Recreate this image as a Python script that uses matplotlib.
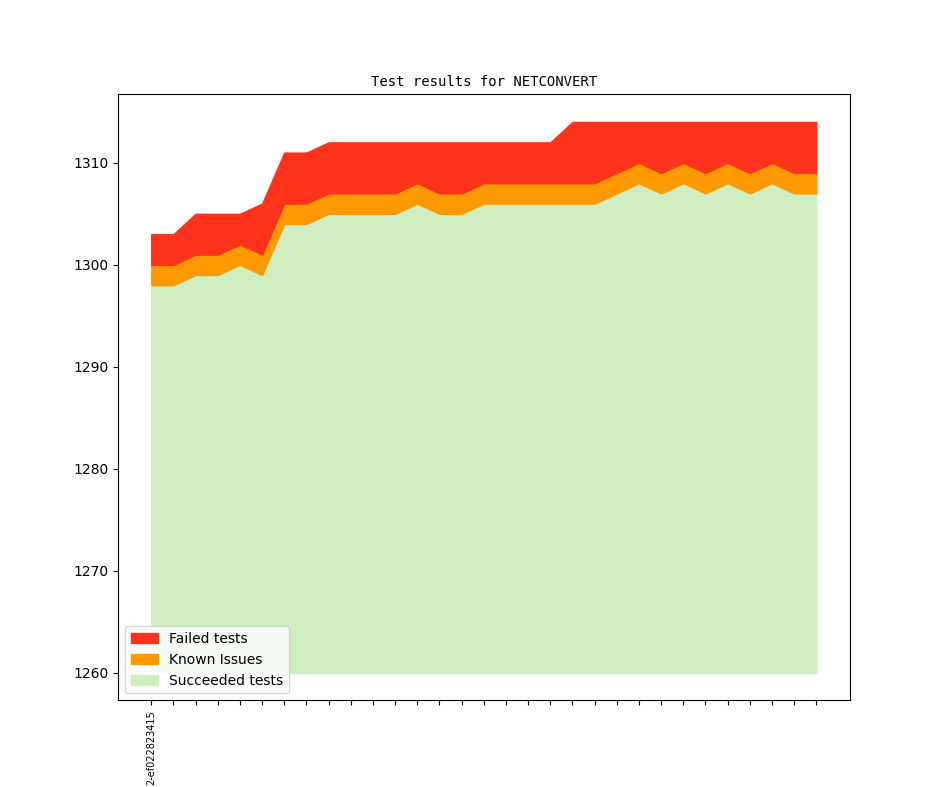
import matplotlib
matplotlib.use("Agg")
import matplotlib.pyplot as plt
import numpy as np

# one entry per revision, oldest first
revisions = ["2-ef022823415"] + [""] * 30
succeeded = [1298, 1298, 1299, 1299, 1300, 1299, 1304, 1304, 1305, 1305,
             1305, 1305, 1306, 1305, 1305, 1306, 1306, 1306, 1306, 1306,
             1306, 1307, 1308, 1307, 1308, 1307, 1308, 1307, 1308, 1307, 1307]
known = [2] * 31
failed = [3, 3, 4, 4, 3, 5, 5, 5, 5, 5,
          5, 5, 4, 5, 5, 4, 4, 4, 4, 6,
          6, 5, 4, 5, 4, 5, 4, 5, 4, 5, 5]
base = 1260

x = np.arange(len(revisions))
succ = np.array(succeeded)
kn_top = succ + np.array(known)
fail_top = kn_top + np.array(failed)

fig = plt.figure(figsize=(9.44, 7.87), dpi=100)
ax = fig.add_subplot(111)

g = ax.fill_between(x, base, succ, color="#cfeec0", label="Succeeded tests")
o = ax.fill_between(x, succ, kn_top, color="#ff9900", label="Known Issues")
r = ax.fill_between(x, kn_top, fail_top, color="#ff331c", label="Failed tests")

ax.set_title("Test results for NETCONVERT", family="DejaVu Sans Mono", fontsize=10)
ax.set_xticks(x)
ax.set_xticklabels(revisions, rotation=90, fontsize=7)
ax.legend(handles=[r, o, g], loc="lower left")

fig.savefig("out.png")
